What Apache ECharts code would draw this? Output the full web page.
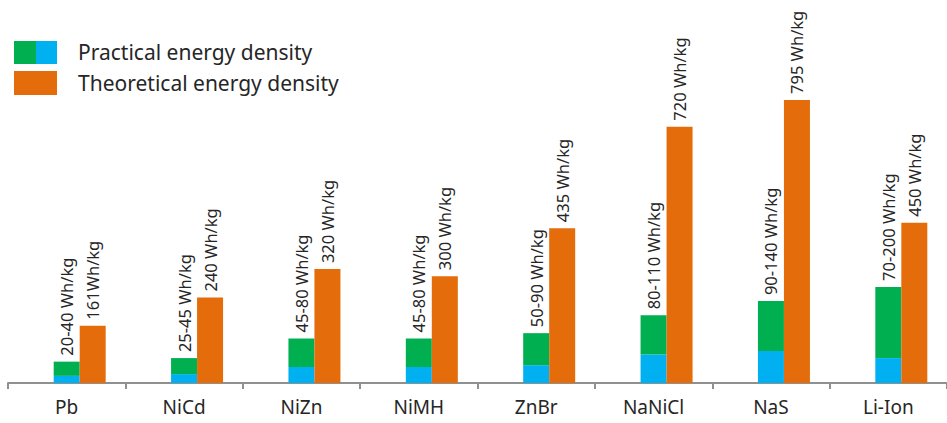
<!DOCTYPE html>
<html><head><meta charset="utf-8">
<script src="https://cdn.jsdelivr.net/npm/echarts@6/dist/echarts.min.js"></script>
<style>html,body{margin:0;padding:0;background:#fff}#c{width:947px;height:423px}</style>
</head><body><div id="c"></div>
<script>
const categories = ['Pb','NiCd','NiZn','NiMH','ZnBr','NaNiCl','NaS','Li-Ion'];
const practicalLow = [20,25,45,45,50,80,90,70];
const practicalHigh = [40,45,80,80,90,110,140,200];
const theoretical = [161,240,320,300,435,720,795,450];
const practicalLabels = ['20-40 Wh/kg','25-45 Wh/kg','45-80 Wh/kg','45-80 Wh/kg','50-90 Wh/kg','80-110 Wh/kg','90-140 Wh/kg','70-200 Wh/kg'];
const theoreticalLabels = ['161Wh/kg','240 Wh/kg','320 Wh/kg','300 Wh/kg','435 Wh/kg','720 Wh/kg','795 Wh/kg','450 Wh/kg'];
const legendNames = ['Practical energy density','Theoretical energy density'];

const FONT = '"Noto Sans", "Open Sans", sans-serif';
const TXT = '#262626';
const chart = echarts.init(document.getElementById('c'), null, {renderer:'svg'});
const vlabel = (arr) => ({
  show:true, position:'top', rotate:90, align:'left', verticalAlign:'middle', distance:6,
  fontFamily:FONT, fontSize:16.5, color:TXT,
  formatter: p => arr[p.dataIndex]
});
chart.setOption({
  animation:false,
  grid:{left:8, right:-8, top:27, bottom:40},
  xAxis:{type:'category', data:categories,
    axisLine:{lineStyle:{color:'#909090', width:2}},
    axisTick:{show:true, length:6, lineStyle:{color:'#909090', width:2}},
    axisLabel:{fontFamily:FONT, fontSize:19, color:TXT, margin:14}},
  yAxis:{type:'value', min:0, max:1000, show:false, splitLine:{show:false}},
  series:[
    {type:'bar', name:'spacer', data:categories.map(()=>null), barWidth:26, barGap:'0%'},
    {type:'bar', name:'low', stack:'p', data:practicalLow, barWidth:26, barGap:'0%', itemStyle:{color:'#00B0F0'}},
    {type:'bar', name:legendNames[0], stack:'p', data:practicalHigh, barWidth:26, barGap:'0%', itemStyle:{color:'#00B050'}, label:vlabel(practicalLabels)},
    {type:'bar', name:legendNames[1], data:theoretical, barWidth:26, barGap:'0%', itemStyle:{color:'#E46C0A'}, label:vlabel(theoreticalLabels)}
  ],
  graphic:[
    {type:'rect', shape:{x:14,y:41,width:22,height:23}, style:{fill:'#00B050'}},
    {type:'rect', shape:{x:36,y:41,width:21,height:23}, style:{fill:'#00B0F0'}},
    {type:'rect', shape:{x:14,y:71,width:43,height:24}, style:{fill:'#E46C0A'}},
    {type:'text', x:78, y:52, style:{text:legendNames[0], font:'21px '+FONT, fill:TXT, verticalAlign:'middle'}},
    {type:'text', x:78, y:83, style:{text:legendNames[1], font:'21px '+FONT, fill:TXT, verticalAlign:'middle'}}
  ]
});
</script></body></html>
